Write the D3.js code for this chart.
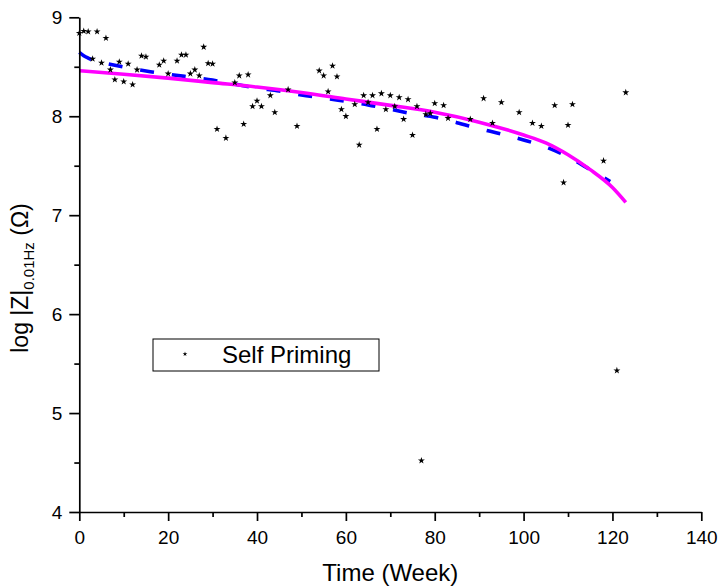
<!DOCTYPE html>
<html><head><meta charset="utf-8">
<script src="https://cdn.jsdelivr.net/npm/d3@7"></script>
<style>
body{margin:0;background:#fff}
svg{display:block}
text{font-family:Arial,"Liberation Sans",Helvetica,sans-serif;fill:#000}
</style>
</head><body>
<svg id="chart" width="719" height="588"></svg>
<script>
// ---- data ----
const weeks = [0,1,2,3,4,5,6,7,8,9,10,11,12,13,14,15,18,19,20,22,23,24,25,26,27,28,29,30,31,33,35,36,37,38,39,40,41,43,44,47,49,54,55,56,57,58,59,60,62,63,64,65,66,67,68,69,70,71,72,73,74,75,76,77,78,79,80,82,83,88,91,93,95,99,102,104,107,109,110,111,118,121,123];
const logZ  = [8.84,8.86,8.855,8.58,8.855,8.54,8.79,8.47,8.37,8.55,8.35,8.53,8.32,8.47,8.61,8.60,8.52,8.56,8.43,8.56,8.62,8.62,8.43,8.47,8.41,8.70,8.535,8.53,7.87,7.78,8.34,8.41,7.92,8.42,8.10,8.155,8.10,8.21,8.04,8.27,7.90,8.46,8.41,8.25,8.51,8.40,8.07,8.00,8.12,7.71,8.21,8.14,8.21,7.87,8.23,8.07,8.21,8.10,8.19,7.97,8.17,7.81,8.10,4.52,8.02,8.03,8.13,8.11,7.98,7.97,8.18,7.93,8.14,8.04,7.93,7.90,8.11,7.33,7.91,8.12,7.55,5.43,8.24];

// fitted curves
const blueFitX = [0,1,2,3,5,8,12,16,20,25,30,35,40,45,50,55,60,65,70,75,80,85,90,95,100,105,110,115,119.5];
const blueFitY = [8.645,8.612,8.588,8.568,8.545,8.515,8.48,8.45,8.425,8.395,8.365,8.325,8.285,8.255,8.215,8.185,8.15,8.115,8.07,8.025,7.99,7.935,7.875,7.82,7.76,7.69,7.59,7.46,7.34];
const magFitX  = [0,10,20,30,40,50,60,70,80,90,100,105,110,115,120,123];
const magFitY  = [8.46,8.425,8.385,8.34,8.295,8.24,8.175,8.11,8.04,7.94,7.81,7.73,7.61,7.46,7.28,7.13];

const xTicks = [0,20,40,60,80,100,120,140];
const xMinor = [10,30,50,70,90,110,130];
const yTicks = [4,5,6,7,8,9];
const yMinor = [4.5,5.5,6.5,7.5,8.5];
const xTitle = "Time (Week)";
const legendLabel = "Self Priming";

// ---- drawing ----
const svg = d3.select("#chart");
const x = d3.scaleLinear().domain([0,140]).range([79.3,701.3]);
const y = d3.scaleLinear().domain([4,9]).range([512,17.3]);

// fit lines
const line = d3.line().curve(d3.curveMonotoneX);
svg.append("path")
  .attr("d", line(blueFitX.map((d,i)=>[x(d), y(blueFitY[i])])))
  .attr("fill","none").attr("stroke","#0000ff").attr("stroke-width",3.6)
  .attr("stroke-dasharray","14,18");
svg.append("path")
  .attr("d", line(magFitX.map((d,i)=>[x(d), y(magFitY[i])])))
  .attr("fill","none").attr("stroke","#ff00ff").attr("stroke-width",3.6);

// points
const star = d3.symbol().type(d3.symbolStar).size(15);
svg.append("g").selectAll("path").data(weeks).join("path")
  .attr("d", star)
  .attr("transform",(d,i)=>`translate(${x(d)},${y(logZ[i])})`)
  .attr("fill","#000");

// axes
svg.append("g").attr("transform","translate(0,512)")
  .call(d3.axisBottom(x).tickValues(xTicks).tickSize(9).tickPadding(10).tickSizeOuter(0).tickFormat(d3.format("d")));
svg.append("g").attr("transform","translate(0,512)")
  .call(d3.axisBottom(x).tickValues(xMinor).tickSize(5).tickSizeOuter(0).tickFormat(""))
  .select(".domain").remove();
svg.append("g").attr("transform","translate(79.3,0)")
  .call(d3.axisLeft(y).tickValues(yTicks).tickSize(10).tickPadding(7).tickSizeOuter(0).tickFormat(d3.format("d")));
svg.append("g").attr("transform","translate(79.3,0)")
  .call(d3.axisLeft(y).tickValues(yMinor).tickSize(5).tickSizeOuter(0).tickFormat(""))
  .select(".domain").remove();
svg.selectAll(".domain, .tick line").attr("stroke","#000").attr("stroke-width",1.7);
svg.selectAll(".tick text").attr("font-size",19).attr("font-family","Arial, 'Liberation Sans', sans-serif").attr("fill","#000");

// axis titles
svg.append("text").attr("x",390.3).attr("y",581).attr("text-anchor","middle")
  .attr("font-size",24).text(xTitle);
const yt = svg.append("text").attr("transform","translate(28,278) rotate(-90)")
  .attr("text-anchor","middle").attr("font-size",23);
yt.append("tspan").text("log |Z|");
yt.append("tspan").attr("font-size",15).attr("dy",6).text("0.01Hz");
yt.append("tspan").attr("dy",-6).text(" (\u03A9)");

// legend
svg.append("rect").attr("x",153).attr("y",339).attr("width",226).attr("height",32)
  .attr("fill","#fff").attr("stroke","#000").attr("stroke-width",1);
svg.append("path").attr("d", d3.symbol().type(d3.symbolStar).size(7)())
  .attr("transform","translate(185,354)").attr("fill","#000");
svg.append("text").attr("x",222).attr("y",363).attr("font-size",24).text(legendLabel);
</script>
</body></html>
